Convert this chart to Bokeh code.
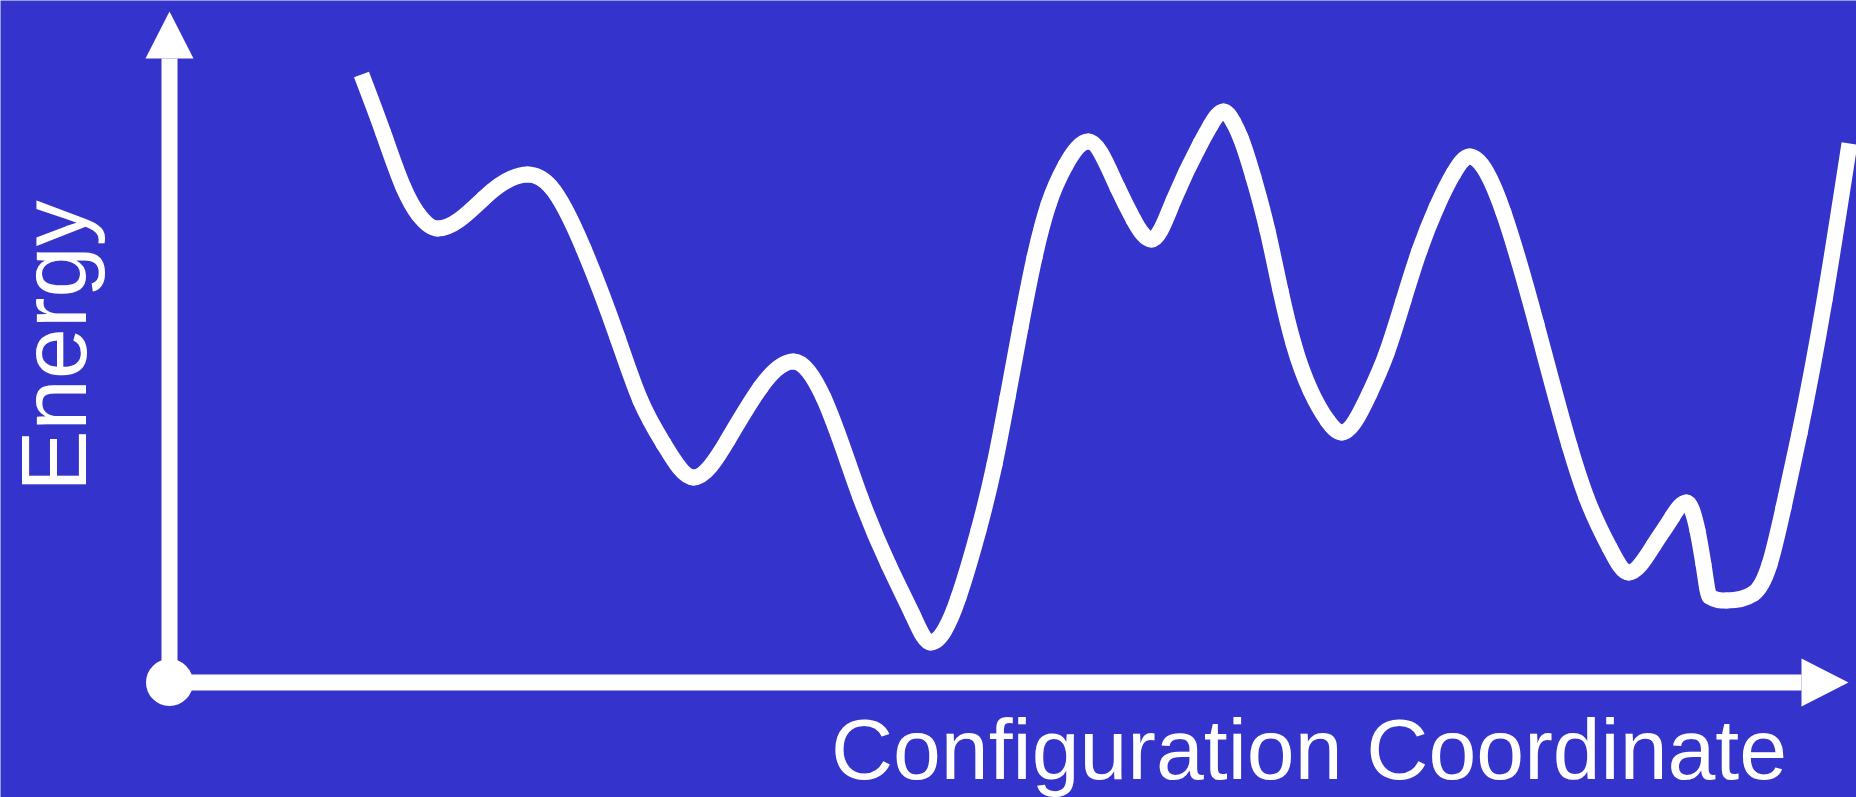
import math
from bokeh.plotting import figure
from bokeh.models import Range1d, Label
from bokeh.embed import file_html
from bokeh.resources import INLINE

# ---- data (arbitrary units; origin = axes corner) ----
config_coord = [192, 214, 234, 249, 268, 314, 358, 381, 414, 448, 471, 494,
                524, 558, 591, 624, 654, 691, 719, 743, 761, 789, 809, 825,
                838, 851, 865, 879, 896, 919, 948, 964, 982, 1004, 1031, 1041,
                1054, 1064, 1071, 1084, 1098, 1111, 1124, 1141, 1158, 1172, 1200, 1217,
                1234, 1250, 1267, 1284, 1300, 1334, 1367, 1400, 1417, 1440, 1459, 1484,
                1503, 1517, 1528, 1534, 1540, 1557, 1584, 1600, 1614, 1630, 1655, 1680]
energy = [608, 549, 495, 468, 454, 484, 508, 496, 434, 345, 282, 239,
          205, 242, 295, 321, 285, 185, 118, 68, 40, 85, 152, 218,
          285, 355, 425, 478, 517, 541, 495, 463, 443, 482, 539, 557,
          571, 560, 545, 505, 452, 392, 339, 292, 262, 250, 289, 329,
          382, 432, 475, 509, 526, 470, 358, 237, 185, 135, 110, 137,
          166, 180, 152, 118, 86, 82, 89, 118, 175, 249, 382, 539]

x_label = "Configuration Coordinate"
y_label = "Energy"
x_axis_end = 1679
y_axis_end = 671

BG = "#3434cc"
FG = "white"

p = figure(width=1856, height=797, output_backend="svg", toolbar_location=None,
           x_range=Range1d(-169, 1687), y_range=Range1d(-115, 682),
           x_axis_location=None, y_axis_location=None, min_border=0,
           background_fill_color=BG, border_fill_color=BG, outline_line_color=None)
p.grid.visible = False

# ---- smooth curve through the read points (spline slopes, cubic Bezier pieces) ----
xs, ys = config_coord, energy
n = len(xs)
h = [xs[i + 1] - xs[i] for i in range(n - 1)]
s = [(ys[i + 1] - ys[i]) / h[i] for i in range(n - 1)]

# natural cubic spline second derivatives (Thomas algorithm)
a = [0.0] * n; b = [1.0] * n; c = [0.0] * n; r = [0.0] * n
for i in range(1, n - 1):
    a[i] = h[i - 1]; b[i] = 2 * (h[i - 1] + h[i]); c[i] = h[i]
    r[i] = 6 * (s[i] - s[i - 1])
for i in range(1, n):
    w = a[i] / b[i - 1]
    b[i] -= w * c[i - 1]
    r[i] -= w * r[i - 1]
M = [0.0] * n
M[-1] = r[-1] / b[-1]
for i in range(n - 2, -1, -1):
    M[i] = (r[i] - c[i] * M[i + 1]) / b[i]

m = [0.0] * n
for i in range(n - 1):
    m[i] = s[i] - h[i] * (2 * M[i] + M[i + 1]) / 6
m[-1] = s[-1] + h[-1] * (M[-2] + 2 * M[-1]) / 6
for i in range(1, n - 1):
    if s[i - 1] * s[i] <= 0:
        m[i] = 0.0
    else:
        lim = 3 * min(abs(s[i - 1]), abs(s[i]))
        if m[i] * s[i] <= 0:
            m[i] = 0.0
        else:
            m[i] = math.copysign(min(abs(m[i]), lim), s[i])

segs = {k: [] for k in ("x0", "y0", "x1", "y1", "cx0", "cy0", "cx1", "cy1")}
for i in range(n - 1):
    t = h[i] / 3.0
    segs["x0"].append(xs[i]); segs["y0"].append(ys[i])
    segs["x1"].append(xs[i + 1]); segs["y1"].append(ys[i + 1])
    segs["cx0"].append(xs[i] + t); segs["cy0"].append(ys[i] + m[i] * t)
    segs["cx1"].append(xs[i + 1] - t); segs["cy1"].append(ys[i + 1] - m[i + 1] * t)

def pick(idx):
    return {k: [v[j] for j in idx] for k, v in segs.items()}

p.bezier(**pick(range(1, n - 2)), line_color=FG, line_width=16, line_cap="round")
p.bezier(**pick([0, n - 2]), line_color=FG, line_width=16, line_cap="butt")

# ---- axes with arrow heads ----
head_len, head_half = 47, 24
p.segment(x0=[0, 0], y0=[0, 0], x1=[0, x_axis_end - head_len], y1=[y_axis_end - head_len, 0],
          line_color=FG, line_width=16, line_cap="butt")
p.patches(xs=[[-head_half, head_half, 0], [x_axis_end - head_len, x_axis_end - head_len, x_axis_end]],
          ys=[[y_axis_end - head_len, y_axis_end - head_len, y_axis_end], [-head_half, head_half, 0]],
          fill_color=FG, line_color=None)
p.scatter(x=[0], y=[0], size=47, marker="circle", fill_color=FG, line_color=None)

# ---- axis titles ----
p.add_layout(Label(x=-116, y=336.5, text=y_label, angle=math.pi / 2,
                   text_align="center", text_baseline="middle",
                   text_font="Liberation Sans", text_font_size="92px", text_color=FG))
p.add_layout(Label(x=1139.5, y=-66.5, text=x_label,
                   text_align="center", text_baseline="middle",
                   text_font="Liberation Sans", text_font_size="86px", text_color=FG))

open("out.html", "w").write(file_html(p, INLINE))
